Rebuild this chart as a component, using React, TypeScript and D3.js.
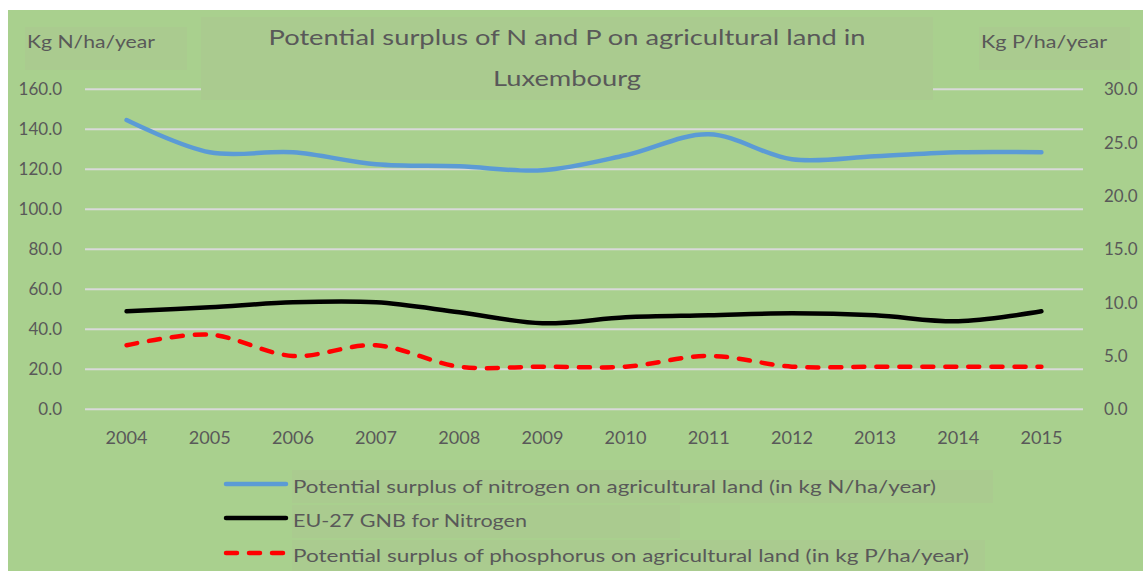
import React from "react";
import * as d3 from "d3";

const years = ["2004","2005","2006","2007","2008","2009","2010","2011","2012","2013","2014","2015"];
const nitrogenSurplus = [144.6, 128.5, 128.5, 122.5, 121.5, 119.5, 127, 137.5, 125, 126.5, 128.5, 128.5];
const eu27GNB = [49, 51, 53.5, 53.5, 48.5, 43, 46, 47, 48, 47, 44, 49];
const phosphorusSurplus = [6.0, 7.0, 5.0, 6.0, 4.0, 4.0, 4.0, 5.0, 4.0, 4.0, 4.0, 4.0];
const leftTicks = [0, 20, 40, 60, 80, 100, 120, 140, 160];
const rightTicks = [0, 5, 10, 15, 20, 25, 30];
const seriesNames = [
  "Potential surplus of nitrogen on agricultural land (in kg N/ha/year)",
  "EU-27 GNB for Nitrogen",
  "Potential surplus of phosphorus on agricultural land (in kg P/ha/year)",
];

const FONT = "Lato, 'Open Sans', sans-serif";
const TXT = "#595959";
const BOX = "#aacb8f";

export default function App() {
  const W = 1143, H = 571;
  const left = 85, right = 1083, top = 89.3, bottom = 409.3;
  const x = d3.scaleBand().domain(years).range([left, right]);
  const cx = (d: string) => (x(d) as number) + x.bandwidth() / 2;
  const yL = d3.scaleLinear().domain([0, 160]).range([bottom, top]);
  const yR = d3.scaleLinear().domain([0, 30]).range([bottom, top]);
  const curve = d3.curveCatmullRom.alpha(0.5);
  const lineL = d3.line<number>().x((_, i) => cx(years[i])).y((v) => yL(v)).curve(curve);
  const lineR = d3.line<number>().x((_, i) => cx(years[i])).y((v) => yR(v)).curve(curve);

  const legendY = [487, 521, 556];
  const legendW = [643, 234, 676];

  return (
    <svg width={W} height={H} style={{ position: "absolute", left: 0, top: 0 }} fontFamily={FONT}>
      <rect x={0} y={0} width={W} height={H} fill="#ffffff" />
      <rect x={8} y={10} width={W - 8} height={H - 10} fill="#a9d08e" />
      <rect x={25} y={27} width={162} height={43} fill={BOX} />
      <rect x={979} y={27} width={151} height={43} fill={BOX} />
      {leftTicks.map((t) => (
        <line key={t} x1={left} x2={right} y1={yL(t)} y2={yL(t)} stroke="#d9d9d9" strokeWidth={2} />
      ))}
      {/* title box, drawn over the top gridline */}
      <rect x={201} y={17} width={732} height={83} fill={BOX} />
      <text x={567} y={45} textAnchor="middle" fontSize={22} fill={TXT} textLength={597} lengthAdjust="spacingAndGlyphs">
        Potential surplus of N and P on agricultural land in
      </text>
      <text x={567} y={86} textAnchor="middle" fontSize={22} fill={TXT} textLength={148} lengthAdjust="spacingAndGlyphs">
        Luxembourg
      </text>
      <text x={27} y={48} fontSize={17} fill={TXT} textLength={128} lengthAdjust="spacingAndGlyphs">Kg N/ha/year</text>
      <text x={981} y={48} fontSize={17} fill={TXT} textLength={126} lengthAdjust="spacingAndGlyphs">Kg P/ha/year</text>
      {leftTicks.map((t) => (
        <text key={t} x={62} y={yL(t) + 6} textAnchor="end" fontSize={17} fill={TXT}>{t.toFixed(1)}</text>
      ))}
      {rightTicks.map((t) => (
        <text key={t} x={1104} y={yR(t) + 6} fontSize={17} fill={TXT}>{t.toFixed(1)}</text>
      ))}
      {years.map((yr) => (
        <text key={yr} x={cx(yr)} y={444} textAnchor="middle" fontSize={18} fill={TXT} textLength={42} lengthAdjust="spacingAndGlyphs">{yr}</text>
      ))}
      <path d={lineL(nitrogenSurplus) || ""} fill="none" stroke="#5b9bd5" strokeWidth={4.5} strokeLinecap="round" />
      <path d={lineL(eu27GNB) || ""} fill="none" stroke="#000000" strokeWidth={4.5} strokeLinecap="round" />
      <path d={lineR(phosphorusSurplus) || ""} fill="none" stroke="#ff0000" strokeWidth={4.5} strokeLinecap="round" strokeDasharray="11 12" />
      {/* legend */}
      <rect x={292} y={470} width={701} height={33} fill={BOX} />
      <rect x={292} y={505} width={388} height={33} fill={BOX} />
      <rect x={292} y={540} width={693} height={31} fill={BOX} />
      <line x1={226} x2={286} y1={legendY[0] - 3} y2={legendY[0] - 3} stroke="#5b9bd5" strokeWidth={4.5} strokeLinecap="round" />
      <line x1={226} x2={286} y1={legendY[1] - 3} y2={legendY[1] - 3} stroke="#000000" strokeWidth={4.5} strokeLinecap="round" />
      <line x1={226} x2={286} y1={legendY[2] - 3} y2={legendY[2] - 3} stroke="#ff0000" strokeWidth={4.5} strokeLinecap="round" strokeDasharray="11 12" />
      {seriesNames.map((s, i) => (
        <text key={s} x={293} y={legendY[i] + 6} fontSize={18} fill={TXT} textLength={legendW[i]} lengthAdjust="spacingAndGlyphs">{s}</text>
      ))}
    </svg>
  );
}
